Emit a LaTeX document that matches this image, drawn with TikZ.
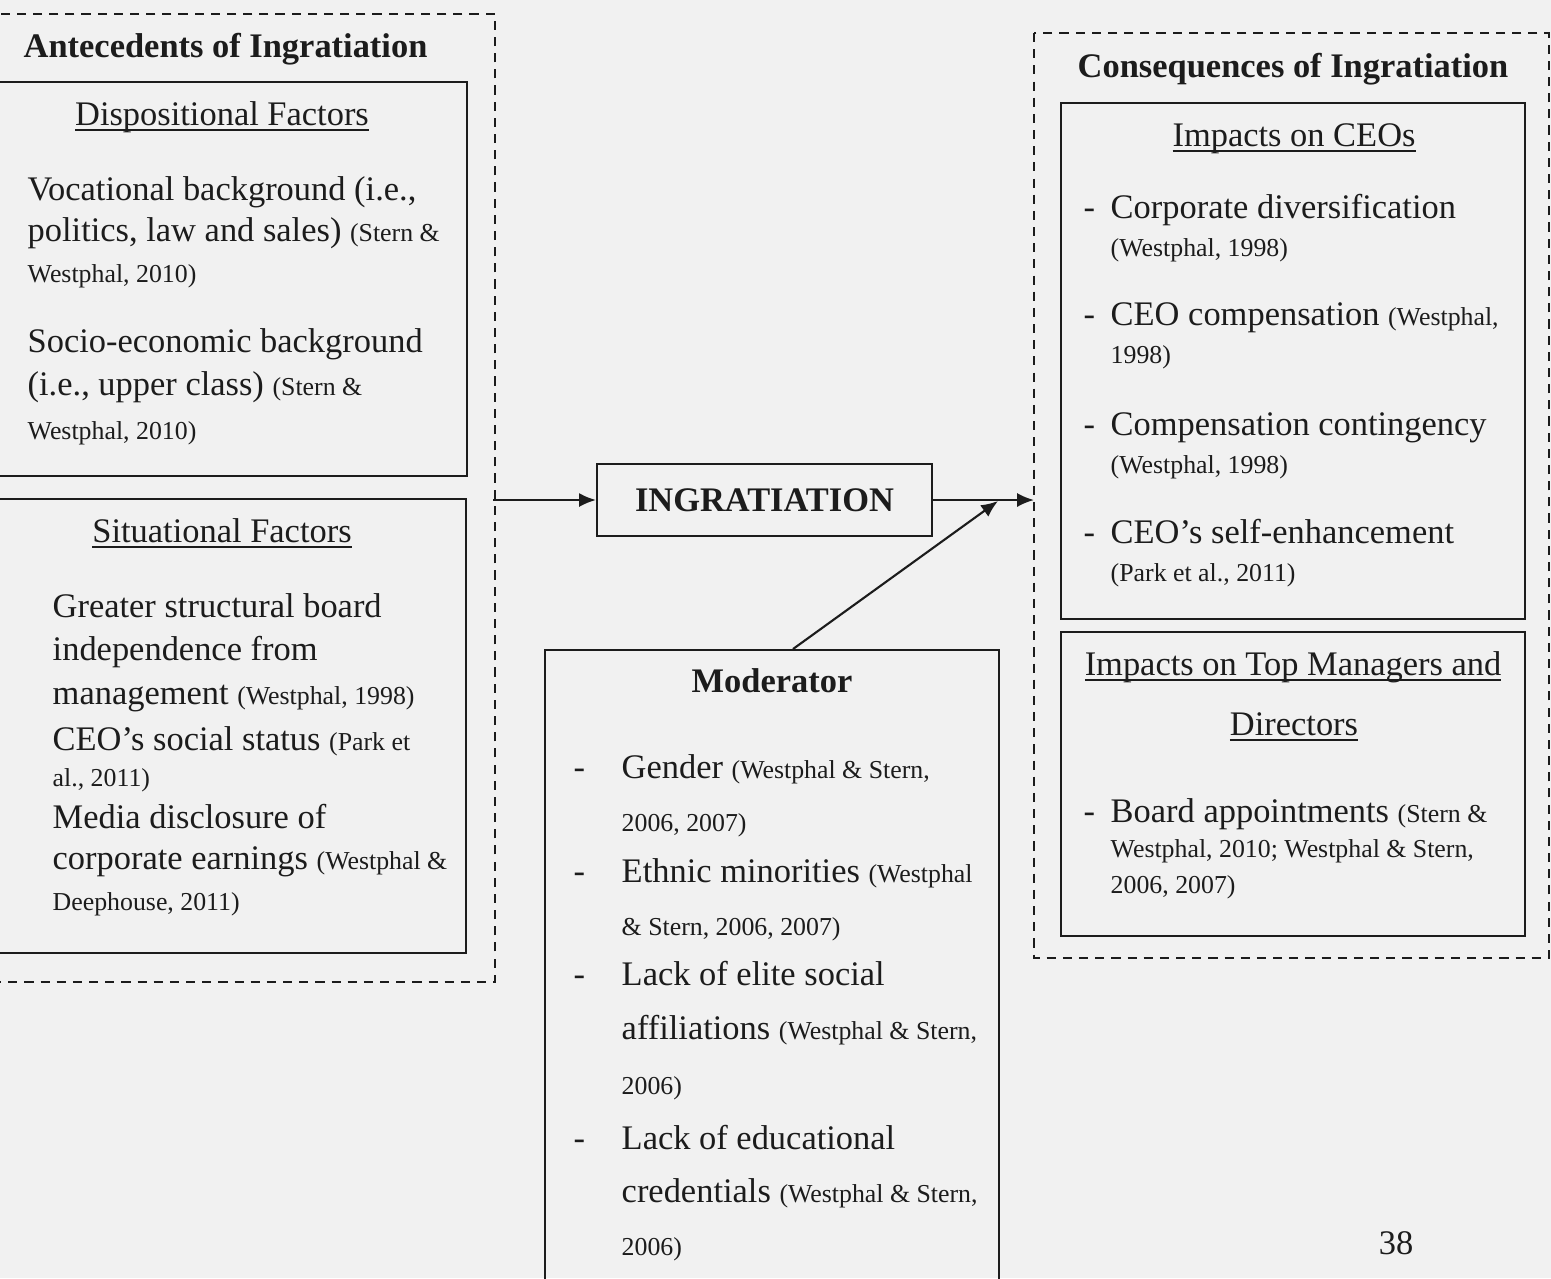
\documentclass[tikz,border=0pt]{standalone}
\usepackage{fontspec}
\setmainfont{Liberation Serif}
\usetikzlibrary{arrows.meta, positioning, calc}

\definecolor{paper}{RGB}{241,241,241}
\definecolor{ink}{RGB}{28,28,28}

% citation size and word-style underline
\newcommand{\cit}[1]{{\fontsize{7.35}{8}\selectfont #1}}
\newcommand{\uln}[1]{\setbox0\hbox{#1}\rlap{\rule[-1.7pt]{\wd0}{0.5pt}}\box0}

\tikzset{
  body/.style={inner sep=0pt, text=ink, font=\fontsize{9.8}{11}\selectfont},
  head/.style={body, anchor=base, font=\fontsize{9.8}{11}\selectfont\bfseries},
  subhead/.style={body, anchor=base},
  dashnode/.style={body, anchor=base west},
  itemtext/.style={body, anchor=base west, text width=4.6cm, align=flush left,
    font=\fontsize{9.8}{#1}\selectfont},
  solidbox/.style={draw=ink, line width=0.6pt},
  dashframe/.style={draw=ink, line width=0.45pt, dash pattern=on 2.6pt off 2pt},
  flowarrow/.style={draw=ink, line width=0.6pt, -{Latex[length=4.8pt,width=4pt]}}
}

\begin{document}
\begin{tikzpicture}
\useasboundingbox (0,0) rectangle (15.51,-12.78);
\clip (0,0) rectangle (15.51,-12.78);
\fill[paper] (0,0) rectangle (15.51,-12.78);

% Antecedents
\draw[dashframe] (-0.1,-0.14) rectangle (4.95,-9.82);
\node[head, anchor=base west] (ante) at (0.23,-0.57) {Antecedents of Ingratiation};

\draw[solidbox] (-0.1,-0.82) rectangle (4.67,-4.76);
\node[subhead] (disp) at (2.22,-1.25) {\uln{Dispositional Factors}};
\node[itemtext=11.7] (voc) at (0.27,-2.00) {Vocational background (i.e.,\\ politics, law and sales) \cit{(Stern \&}\\ \cit{Westphal, 2010)}};
\node[itemtext=12.5] (socio) at (0.27,-3.52) {Socio-economic background\\ (i.e., upper class) \cit{(Stern \&}\\ \cit{Westphal, 2010)}};

\draw[solidbox] (-0.1,-4.99) rectangle (4.66,-9.53);
\node[subhead] (situ) at (2.22,-5.42) {\uln{Situational Factors}};
\node[itemtext=12.5] (board) at (0.52,-6.17) {Greater structural board\\ independence from\\ management \cit{(Westphal, 1998)}};
\node[itemtext=10.5] (status) at (0.52,-7.50) {CEO's social status \cit{(Park et}\\ \cit{al., 2011)}};
\node[itemtext=11.7] (media) at (0.52,-8.28) {Media disclosure of\\ corporate earnings \cit{(Westphal \&}\\ \cit{Deephouse, 2011)}};

% Ingratiation and moderator
\node[solidbox, head, anchor=center, minimum width=3.35cm, minimum height=0.72cm] (ingr) at (7.645,-5.00) {INGRATIATION};

\node[solidbox, anchor=north, minimum width=4.54cm, minimum height=6.6cm] (mod) at (7.72,-6.49) {};
\node[head] (modt) at (7.72,-6.92) {Moderator};
\foreach \y [count=\i] in {7.78, 8.82, 9.85, 11.49}
  \node[dashnode] (mdash\i) at (5.73,-\y) {-};
\node[itemtext=15.3] (gender) at (6.21,-7.78) {Gender \cit{(Westphal \& Stern,}\\ \cit{2006, 2007)}};
\node[itemtext=15.1] (ethnic) at (6.21,-8.82) {Ethnic minorities \cit{(Westphal}\\ \cit{\& Stern, 2006, 2007)}};
\node[itemtext=15.6] (elite) at (6.21,-9.85) {Lack of elite social\\ affiliations \cit{(Westphal \& Stern,}\\ \cit{2006)}};
\node[itemtext=15.1] (educ) at (6.21,-11.49) {Lack of educational\\ credentials \cit{(Westphal \& Stern,}\\ \cit{2006)}};

% Consequences
\draw[dashframe] (10.34,-0.33) rectangle (15.49,-9.58);
\node[head] (cons) at (12.93,-0.77) {Consequences of Ingratiation};

\draw[solidbox] (10.61,-1.03) rectangle (15.25,-6.19);
\node[subhead] (ceo) at (12.94,-1.46) {\uln{Impacts on CEOs}};
\foreach \y [count=\i] in {2.18, 3.25, 4.35, 5.43, 8.22}
  \node[dashnode] (cdash\i) at (10.83,-\y) {-};
\node[itemtext=11] (divers) at (11.10,-2.18) {Corporate diversification\\ \cit{(Westphal, 1998)}};
\node[itemtext=11] (comp) at (11.10,-3.25) {CEO compensation \cit{(Westphal,}\\ \cit{1998)}};
\node[itemtext=11] (conting) at (11.10,-4.35) {Compensation contingency\\ \cit{(Westphal, 1998)}};
\node[itemtext=11] (selfenh) at (11.10,-5.43) {CEO's self-enhancement\\ \cit{(Park et al., 2011)}};

\draw[solidbox] (10.61,-6.32) rectangle (15.25,-9.36);
\node[subhead] (topm) at (12.93,-6.75) {\uln{Impacts on Top Managers and}};
\node[subhead] (direc) at (12.94,-7.35) {\uln{Directors}};
\node[itemtext=10.1] (appoint) at (11.10,-8.22) {Board appointments \cit{(Stern \&}\\ \cit{Westphal, 2010; Westphal \& Stern,}\\ \cit{2006, 2007)}};

% connectors
\coordinate (anteR) at (4.93,-5.00);
\coordinate (consL) at (10.34,-5.00);
\coordinate (meet) at (9.98,-5.01);
\draw[flowarrow] (anteR) -- (ingr.west);
\draw[flowarrow] (ingr.east) -- (consL);
\draw[flowarrow] ($(mod.north)+(0.21,0)$) -- (meet);

\node[subhead] (page) at (13.96,-12.54) {38};
\end{tikzpicture}
\end{document}
